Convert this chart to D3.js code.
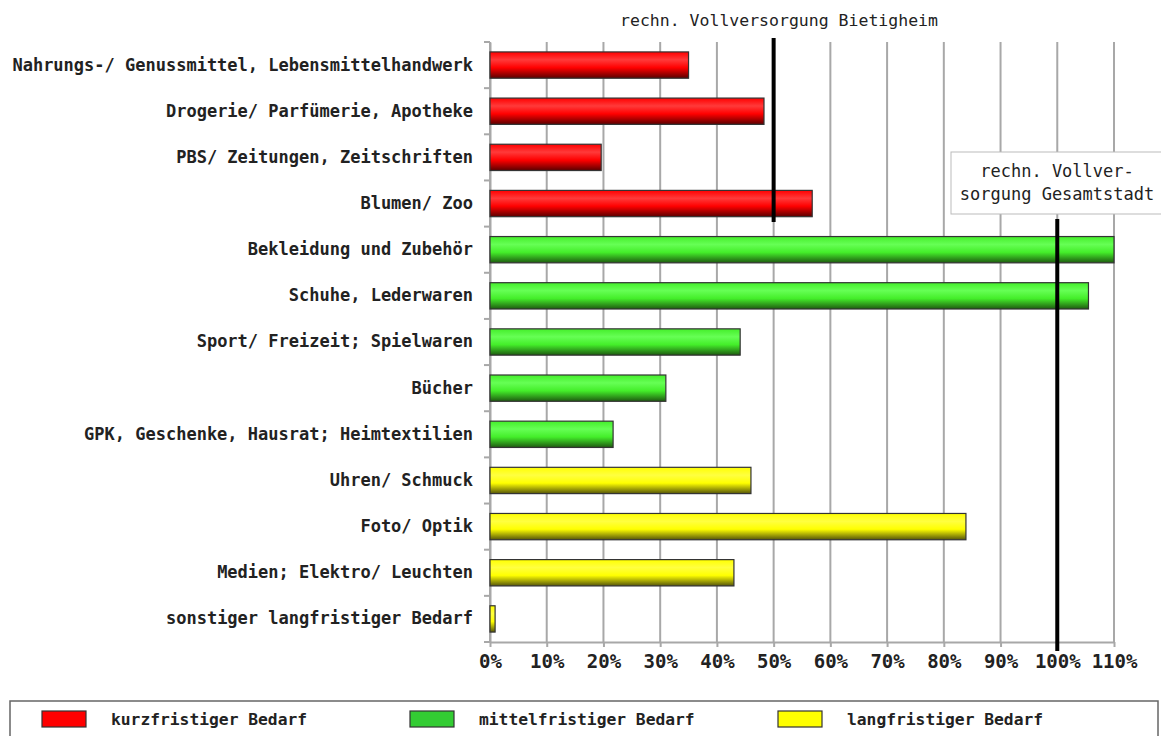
<!DOCTYPE html>
<html><head><meta charset="utf-8">
<script src="https://cdn.jsdelivr.net/npm/d3@7"></script>
<style>body{margin:0;background:#fff}</style>
</head><body>
<svg id="c" width="1161" height="736"></svg>
<script>
const categories = ["Nahrungs-/ Genussmittel, Lebensmittelhandwerk","Drogerie/ Parfümerie, Apotheke","PBS/ Zeitungen, Zeitschriften","Blumen/ Zoo","Bekleidung und Zubehör","Schuhe, Lederwaren","Sport/ Freizeit; Spielwaren","Bücher","GPK, Geschenke, Hausrat; Heimtextilien","Uhren/ Schmuck","Foto/ Optik","Medien; Elektro/ Leuchten","sonstiger langfristiger Bedarf"];
const values = [35, 48.3, 19.6, 56.8, 110, 105.5, 44.1, 31, 21.7, 46, 83.9, 43, 0.9];
const groups = ["kurz","kurz","kurz","kurz","mittel","mittel","mittel","mittel","mittel","lang","lang","lang","lang"];
const legendKeys = ["kurz","mittel","lang"];
const legendLabels = ["kurzfristiger Bedarf","mittelfristiger Bedarf","langfristiger Bedarf"];
const tickValues = [0,10,20,30,40,50,60,70,80,90,100,110];
const refLines = [{v:50, label:["rechn. Vollversorgung Bietigheim"]},{v:100, label:["rechn. Vollver-","sorgung Gesamtstadt"]}];

const colors = {kurz:{base:"#ff0000",light:"#ff3a3a",dark:"#5a0000",legend:"#ff0000"},
                mittel:{base:"#44ee2a",light:"#66ff55",dark:"#1e5a10",legend:"#33cc33"},
                lang:{base:"#ffff00",light:"#ffff40",dark:"#55550a",legend:"#ffff00"}};

const svg = d3.select("#c");
const font = "'DejaVu Sans Mono', 'Liberation Mono', monospace";
const x = d3.scaleLinear().domain([0,110]).range([490,1114]);
const y = d3.scaleBand().domain(categories).range([42,642]).paddingInner(0.43).paddingOuter(0.215);

const defs = svg.append("defs");
legendKeys.forEach(k=>{
  const g = defs.append("linearGradient").attr("id","g_"+k).attr("x1",0).attr("x2",0).attr("y1",0).attr("y2",1);
  g.append("stop").attr("offset","0%").attr("stop-color",colors[k].base);
  g.append("stop").attr("offset","30%").attr("stop-color",colors[k].light);
  g.append("stop").attr("offset","60%").attr("stop-color",colors[k].base);
  g.append("stop").attr("offset","100%").attr("stop-color",colors[k].dark);
});

// grid
svg.append("g").selectAll("line").data(tickValues).join("line")
  .attr("x1",d=>x(d)).attr("x2",d=>x(d)).attr("y1",42).attr("y2",642)
  .attr("stroke","#a8a8a8").attr("stroke-width",2);

// x axis
const xa = svg.append("g").attr("transform","translate(0,642)")
  .call(d3.axisBottom(x).tickValues(tickValues).tickFormat(d=>d+"%").tickSize(5).tickSizeOuter(0));
xa.select(".domain").attr("stroke","#a8a8a8").attr("stroke-width",2);
xa.selectAll(".tick line").attr("stroke","#a8a8a8").attr("stroke-width",2);
xa.selectAll("text").attr("font-family",font).attr("font-weight","bold").attr("font-size",19).attr("fill","#222").attr("dy","0.95em");

// y axis
const ya = svg.append("g").attr("transform","translate(490,0)")
  .call(d3.axisLeft(y).tickSize(0).tickPadding(17));
ya.select(".domain").attr("stroke","#a8a8a8").attr("stroke-width",2);
ya.selectAll("text").attr("font-family",font).attr("font-weight","bold").attr("font-size",17).attr("fill","#222");
const bounds = d3.range(categories.length+1).map(i=>42+i*y.step());
svg.append("g").selectAll("line").data(bounds).join("line")
  .attr("x1",484).attr("x2",490).attr("y1",d=>d).attr("y2",d=>d).attr("stroke","#a8a8a8").attr("stroke-width",2);

// bars
svg.append("g").selectAll("rect").data(categories).join("rect")
  .attr("x",x(0)).attr("y",d=>y(d)).attr("height",y.bandwidth())
  .attr("width",(d,i)=>x(values[i])-x(0))
  .attr("fill",(d,i)=>"url(#g_"+groups[i]+")")
  .attr("stroke","#333").attr("stroke-width",1.2);

// reference line 1
svg.append("line").attr("x1",x(refLines[0].v)).attr("x2",x(refLines[0].v)).attr("y1",38).attr("y2",222)
  .attr("stroke","#000").attr("stroke-width",4);
svg.append("text").attr("x",779).attr("y",26).attr("text-anchor","middle")
  .attr("font-family",font).attr("font-size",16.5).attr("fill","#222").text(refLines[0].label[0]);

// reference line 2
svg.append("line").attr("x1",x(refLines[1].v)).attr("x2",x(refLines[1].v)).attr("y1",219).attr("y2",651)
  .attr("stroke","#000").attr("stroke-width",4);
svg.append("rect").attr("x",951).attr("y",152).attr("width",212).attr("height",62)
  .attr("fill","#fff").attr("stroke","#bbb").attr("stroke-width",1);
svg.append("text").attr("x",1057).attr("y",177).attr("text-anchor","middle")
  .attr("font-family",font).attr("font-size",17).attr("fill","#222")
  .selectAll("tspan").data(refLines[1].label).join("tspan").attr("x",1057).attr("dy",(d,i)=>i?23:0).text(d=>d);

// legend
svg.append("rect").attr("x",10).attr("y",701).attr("width",1148).attr("height",40)
  .attr("fill","#fff").attr("stroke","#666").attr("stroke-width",1.5);
const lx = [42,410,778];
const lg = svg.append("g").selectAll("g").data(legendKeys).join("g")
  .attr("transform",(d,i)=>`translate(${lx[i]},711)`);
lg.append("rect").attr("width",44).attr("height",16).attr("fill",d=>colors[d].legend).attr("stroke","#333").attr("stroke-width",1.2);
lg.append("text").attr("x",69).attr("y",14).attr("font-family",font).attr("font-weight","bold").attr("font-size",16.3).attr("fill","#222")
  .text((d,i)=>legendLabels[i]);
</script>
</body></html>
